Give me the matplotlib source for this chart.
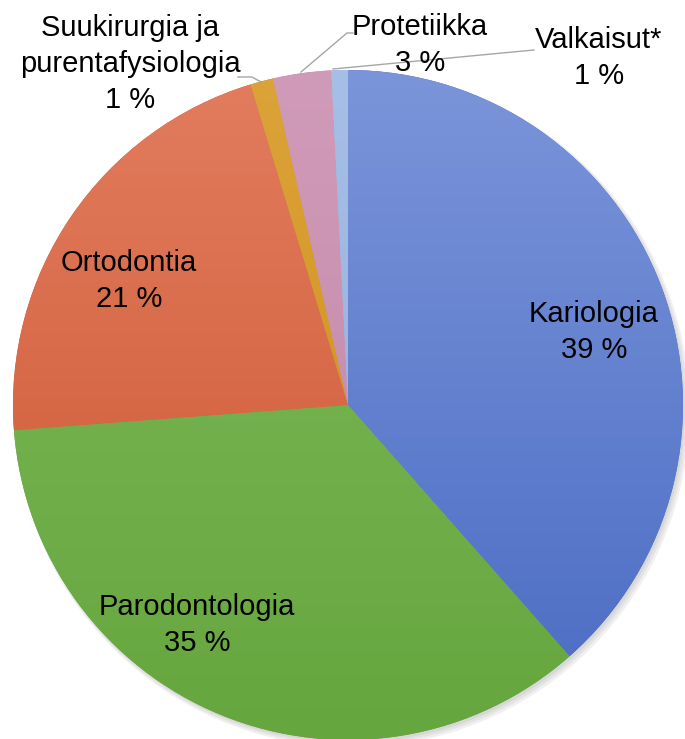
import numpy as np
import matplotlib.pyplot as plt
from matplotlib.colors import LinearSegmentedColormap

plt.rcParams['font.family'] = ['Liberation Sans', 'DejaVu Sans']

# Data
labels = ["Kariologia", "Parodontologia", "Ortodontia",
          "Suukirurgia ja\npurentafysiologia", "Protetiikka", "Valkaisut*"]
values = [38.5, 35.3, 21.5, 1.1, 2.8, 0.8]
shown = ["39 %", "35 %", "21 %", "1 %", "3 %", "1 %"]

# light (top) -> dark (bottom) per slice
light = ["#7b95da", "#80bb5c", "#e27d5e", "#dca33a", "#d09bb8", "#a6bfe6"]
dark = ["#4a6bc3", "#66a63e", "#cb5430", "#c88c12", "#bf84a6", "#8eacdc"]

fig = plt.figure(figsize=(6.85, 7.39), dpi=100)
ax = fig.add_axes([0, 0, 1, 1])
R = 335.0
ax.axis('off')

# soft shadow
for i, a in enumerate([0.05, 0.05, 0.06]):
    sh = plt.Circle((0.006 + 0.003 * i, -0.008 - 0.003 * i), 1.0 + 0.004 * i,
                    color='black', alpha=a, zorder=0, lw=0)
    ax.add_patch(sh)

wedges, _ = ax.pie(values, startangle=90, counterclock=False, radius=1.0,
                   colors=dark, wedgeprops=dict(linewidth=0))

grad = np.linspace(1, 0, 256).reshape(-1, 1)
for w, c1, c2 in zip(wedges, light, dark):
    cmap = LinearSegmentedColormap.from_list("g", [c2, c1])
    im = ax.imshow(grad, cmap=cmap, extent=(-1, 1, -1, 1), origin='upper',
                   aspect='auto', zorder=2, vmin=0, vmax=1)
    im.set_clip_path(w)

ax.set_xlim(-348 / R, (685 - 348) / R)
ax.set_ylim(-(739 - 405) / R, 405 / R)
ax.set_aspect('auto')


def px(x, y):
    return ((x - 348) / R, (405 - y) / R)


fs = 21
ls = 1.38
# label centres (pixels)
pos = [(594, 332), (197, 625), (129, 281), (130, 64), (420, 45), (599, 58)]
for i, (x, y) in enumerate(pos):
    ax.text(*px(x, y), labels[i] + "\n" + shown[i], ha='center', va='center',
            fontsize=fs, linespacing=ls, zorder=5)

# leader lines
lc = "#a6a6a6"
for pts in [[(238, 77), (252, 77), (261, 82)],
            [(301, 72), (347, 33), (353, 33)],
            [(333, 69), (534, 50)]]:
    xs, ys = zip(*[px(x, y) for x, y in pts])
    ax.plot(xs, ys, color=lc, lw=1, zorder=4)

fig.savefig("out.png", dpi=100)
